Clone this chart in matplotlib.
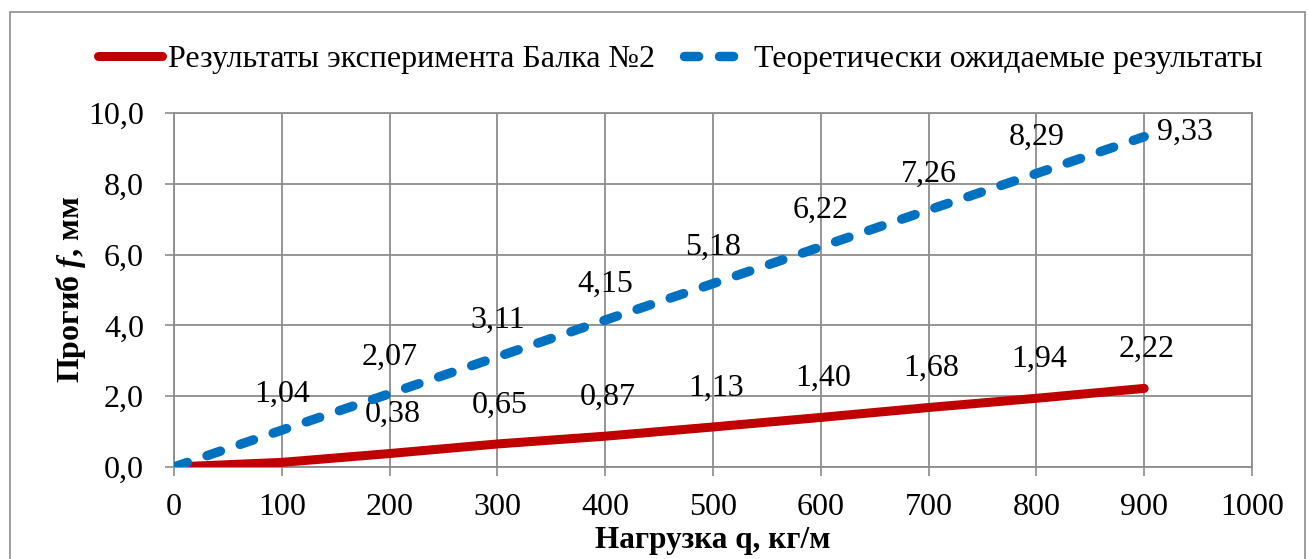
import matplotlib
matplotlib.use("Agg")
import matplotlib.pyplot as plt
from matplotlib.patches import Rectangle

plt.rcParams['font.family'] = ['Liberation Serif', 'DejaVu Serif']
plt.rcParams['mathtext.fontset'] = 'custom'
plt.rcParams['mathtext.it'] = 'Liberation Serif:italic:bold'
plt.rcParams['mathtext.rm'] = 'Liberation Serif:bold'

# data
load = [0, 100, 200, 300, 400, 500, 600, 700, 800, 900]
experiment = [0.0, 0.13, 0.38, 0.65, 0.87, 1.13, 1.40, 1.68, 1.94, 2.22]
theory = [0.0, 1.04, 2.07, 3.11, 4.15, 5.18, 6.22, 7.26, 8.29, 9.33]
exp_name = "Результаты эксперимента Балка №2"
theory_name = "Теоретически ожидаемые результаты"
x_ticks = [0, 100, 200, 300, 400, 500, 600, 700, 800, 900, 1000]
y_ticks = [0, 2, 4, 6, 8, 10]

red = "#C00000"
blue = "#0070C0"
grid_col = "#8C8C8C"
fs = 23

fig = plt.figure(figsize=(13.08, 5.59), dpi=100)
ax = fig.add_axes([0.1330, 0.1646, 0.8242, 0.6333])

# chart outer border
fig.patches.append(Rectangle((10 / 1308, -0.05), 1295 / 1308, 1.05 - 12 / 559,
                             transform=fig.transFigure, fill=False,
                             edgecolor="#8C8C8C", linewidth=1.2))

ax.plot(load, experiment, color=red, linewidth=6.5, solid_capstyle='round',
        solid_joinstyle='round', label=exp_name, zorder=3)
ax.plot(load, theory, color=blue, linewidth=6.8, dashes=[1.5, 2.2],
        dash_capstyle='round', label=theory_name, zorder=4)

# data labels
for i, (x, y) in enumerate(zip(load, theory)):
    if i == 0:
        continue
    txt = f"{y:.2f}".replace(".", ",")
    if i == len(load) - 1:
        ax.annotate(txt, (x, y), xytext=(9, 3), textcoords='offset points',
                    ha='left', va='center', fontsize=fs)
    else:
        ax.annotate(txt, (x, y), xytext=(0, 26), textcoords='offset points',
                    ha='center', va='center', fontsize=fs)
for i, (x, y) in enumerate(zip(load, experiment)):
    if i < 2:
        continue
    txt = f"{y:.2f}".replace(".", ",")
    ax.annotate(txt, (x, y), xytext=(2, 28), textcoords='offset points',
                ha='center', va='center', fontsize=fs)

ax.set_xlim(0, 1000)
ax.set_ylim(0, 10)
ax.set_xticks(x_ticks)
ax.set_yticks(y_ticks)
ax.set_yticklabels([f"{v:.1f}".replace(".", ",") for v in y_ticks])
ax.tick_params(axis='both', labelsize=fs, color=grid_col, width=1.2, length=6.5,
               direction='out')
ax.tick_params(axis='x', pad=12)
ax.tick_params(axis='y', pad=15)
ax.grid(True, color=grid_col, linewidth=1.3)
ax.set_axisbelow(True)
for s in ax.spines.values():
    s.set_color(grid_col)
    s.set_linewidth(1.3)

ax.set_xlabel("Нагрузка q, кг/м", fontsize=22.5, fontweight='bold', labelpad=3)
ax.set_ylabel("Прогиб $\\mathit{f}$, мм", fontsize=23, fontweight='bold')
ax.yaxis.set_label_coords(-0.08, 0.5)

fig.legend(loc='center', bbox_to_anchor=(0.52, 0.893), ncol=2, frameon=False,
           fontsize=fs, handlelength=2.0, handletextpad=0.2, columnspacing=0.9)

fig.savefig("out.png", dpi=100)
